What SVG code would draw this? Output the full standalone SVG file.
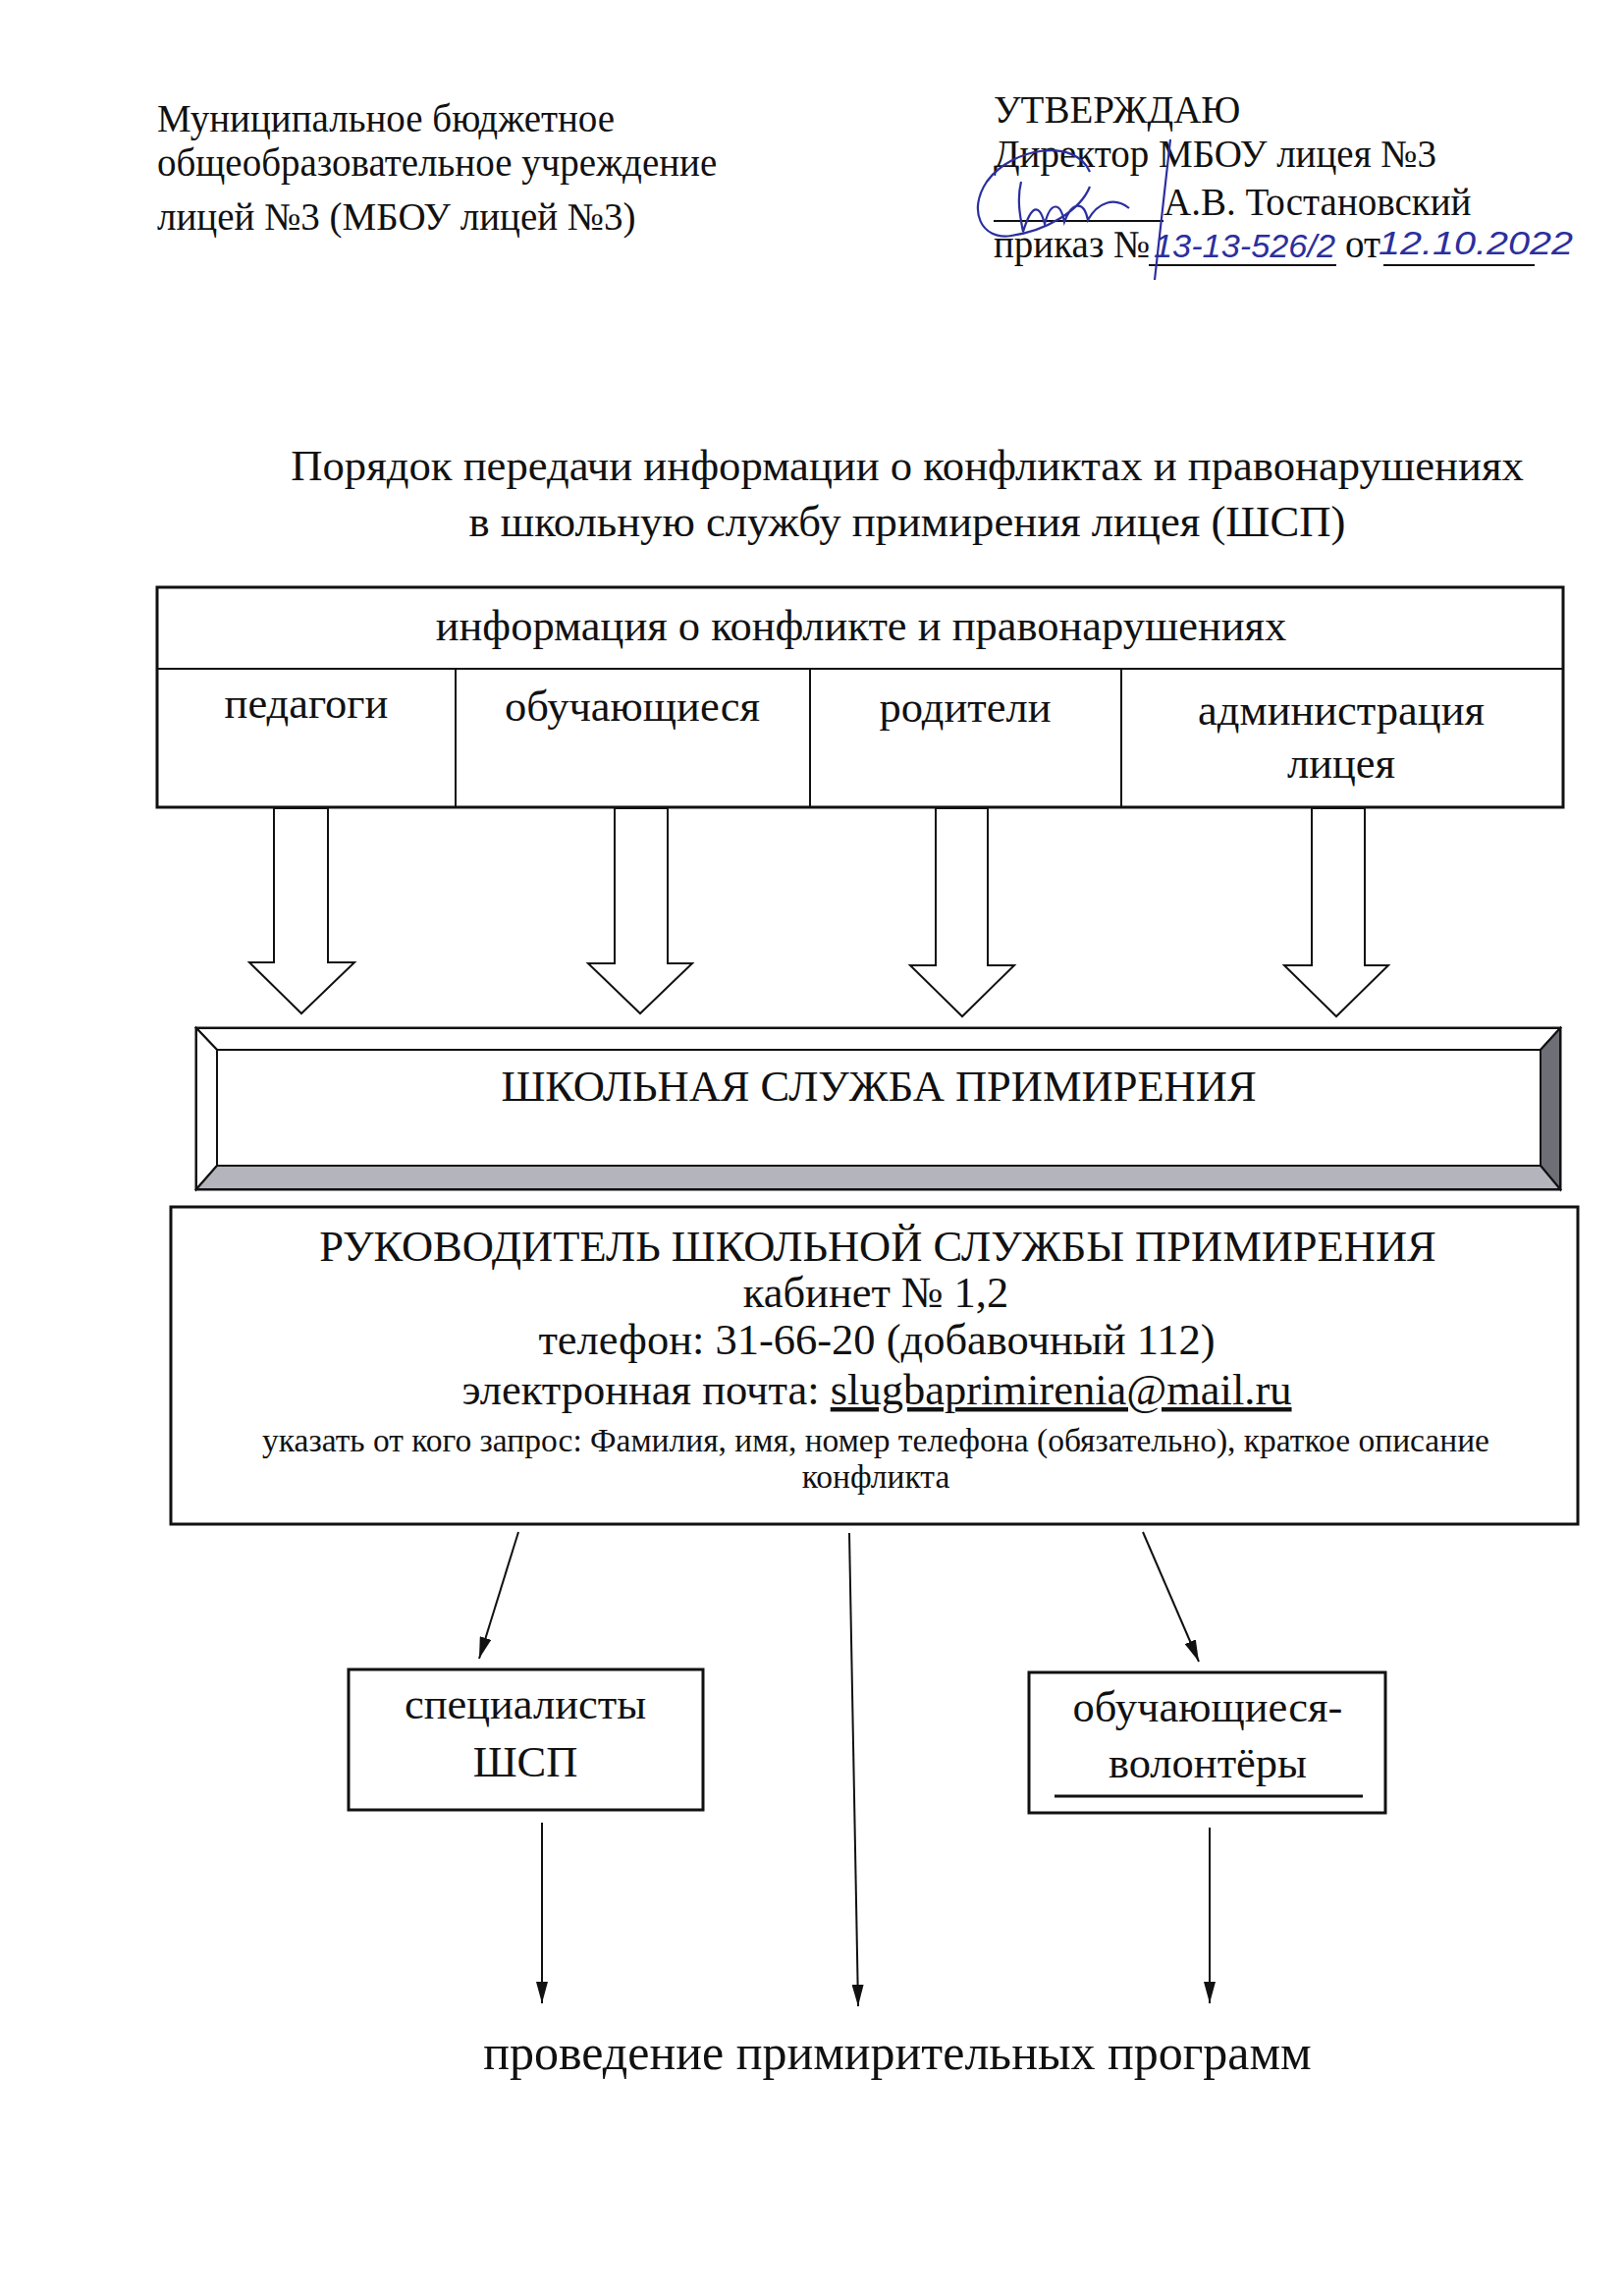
<svg xmlns="http://www.w3.org/2000/svg" width="1653" height="2338" viewBox="0 0 1653 2338">
<style>
text{font-family:"Liberation Serif","Times New Roman",serif;fill:#111;}
.hd{font-size:39px;}
.ti{font-size:44.7px;text-anchor:middle;}
.lb{font-size:44.5px;text-anchor:middle;}
.sm{font-size:33.5px;text-anchor:middle;}
.hw{font-family:"Liberation Sans",sans-serif;font-style:italic;fill:#2b2f9e;font-size:34px;}
.bx{fill:#fff;stroke:#111;stroke-width:3;}
.ln{stroke:#111;stroke-width:2;fill:none;}
.ba{fill:#fff;stroke:#111;stroke-width:2;}
</style>
<defs>
<marker id="ah2" viewBox="0 0 22 12" refX="22" refY="6" markerWidth="22" markerHeight="12" markerUnits="userSpaceOnUse" orient="auto"><path d="M0,0 L22,6 L0,12 z" fill="#111"/></marker>
</defs>
<rect width="1653" height="2338" fill="#fff"/>

<g id="header-left">
<text class="hd" x="160" y="134">Муниципальное бюджетное</text>
<text class="hd" x="160" y="179">общеобразовательное учреждение</text>
<text class="hd" x="160" y="234">лицей №3 (МБОУ лицей №3)</text>
</g>

<g id="header-right">
<text class="hd" x="1012" y="125">УТВЕРЖДАЮ</text>
<text class="hd" x="1012" y="170">Директор МБОУ лицея №3</text>
<line class="ln" x1="1012" y1="225" x2="1185" y2="225"/>
<text class="hd" x="1185" y="219">А.В. Тостановский</text>
<text class="hd" x="1012" y="262">приказ №</text>
<line class="ln" x1="1170" y1="270" x2="1361" y2="270"/>
<text class="hd" x="1370" y="262">от</text>
<line class="ln" x1="1409" y1="270" x2="1563" y2="270"/>
<text class="hw" x="1175" y="262" textLength="185" lengthAdjust="spacingAndGlyphs">13-13-526/2</text>
<text class="hw" x="1404" y="259" textLength="198" lengthAdjust="spacingAndGlyphs">12.10.2022</text>
<path d="M1110,175 C1095,140 1030,150 1005,185 C985,215 1000,245 1030,240 C1065,235 1100,215 1110,190 M1040,185 C1035,205 1040,225 1042,236 C1050,210 1058,205 1064,228 C1070,205 1080,205 1084,226 C1092,205 1104,204 1108,224 C1118,206 1135,200 1150,212 M1192,142 L1176,285" fill="none" stroke="#2b2f9e" stroke-width="2.2"/>
</g>

<g id="title">
<text class="ti" x="924" y="489">Порядок передачи информации о конфликтах и правонарушениях</text>
<text class="ti" x="924" y="546">в школьную службу примирения лицея (ШСП)</text>
</g>

<g id="info-table">
<rect class="bx" x="160" y="598" width="1432" height="224"/>
<line class="ln" x1="160" y1="681" x2="1592" y2="681" stroke-width="3"/>
<line class="ln" x1="464" y1="681" x2="464" y2="822"/>
<line class="ln" x1="825" y1="681" x2="825" y2="822"/>
<line class="ln" x1="1142" y1="681" x2="1142" y2="822"/>
<text class="lb" x="877" y="652">информация о конфликте и правонарушениях</text>
<text class="lb" x="312" y="731">педагоги</text>
<text class="lb" x="644" y="734">обучающиеся</text>
<text class="lb" x="983" y="735">родители</text>
<text class="lb" x="1366" y="738">администрация</text>
<text class="lb" x="1366" y="792">лицея</text>
</g>

<g id="block-arrows">
<path class="ba" d="M279,823 L334,823 L334,980 L361,980 L307,1032 L254,980 L279,980 Z"/>
<path class="ba" d="M626,823 L680,823 L680,981 L705,981 L652,1032 L599,981 L626,981 Z"/>
<path class="ba" d="M953,823 L1006,823 L1006,983 L1033,983 L980,1035 L927,983 L953,983 Z"/>
<path class="ba" d="M1336,823 L1390,823 L1390,983 L1414,983 L1361,1035 L1308,983 L1336,983 Z"/>
</g>

<g id="school-service">
<rect x="200" y="1047" width="1389" height="164" fill="#fff" stroke="#111" stroke-width="3"/>
<path d="M200,1047 L1589,1047 L1569,1069 L221,1069 Z" fill="#fff" stroke="#111" stroke-width="2"/>
<path d="M200,1047 L221,1069 L221,1187 L200,1211 Z" fill="#fff" stroke="#111" stroke-width="2"/>
<path d="M1589,1047 L1589,1211 L1569,1187 L1569,1069 Z" fill="#6e6e76" stroke="#111" stroke-width="2"/>
<path d="M200,1211 L221,1187 L1569,1187 L1589,1211 Z" fill="#b4b4bc" stroke="#111" stroke-width="2"/>
<text class="lb" x="895" y="1121">ШКОЛЬНАЯ СЛУЖБА ПРИМИРЕНИЯ</text>
</g>

<g id="manager">
<rect class="bx" x="174" y="1229" width="1433" height="323"/>
<text class="lb" x="894" y="1284">РУКОВОДИТЕЛЬ ШКОЛЬНОЙ СЛУЖБЫ ПРИМИРЕНИЯ</text>
<text class="lb" x="892" y="1331">кабинет № 1,2</text>
<text class="lb" x="893" y="1379">телефон: 31-66-20 (добавочный 112)</text>
<text class="lb" x="893" y="1430">электронная почта: <tspan text-decoration="underline">slugbaprimirenia@mail.ru</tspan></text>
<text class="sm" x="892" y="1478">указать от кого запрос: Фамилия, имя, номер телефона (обязательно), краткое описание</text>
<text class="sm" x="892" y="1515">конфликта</text>
</g>

<g id="specialists">
<rect class="bx" x="355" y="1700" width="361" height="143"/>
<text class="lb" x="535" y="1750">специалисты</text>
<text class="lb" x="535" y="1809">ШСП</text>
</g>

<g id="volunteers">
<rect class="bx" x="1048" y="1703" width="363" height="143"/>
<text class="lb" x="1230" y="1753">обучающиеся-</text>
<text class="lb" x="1230" y="1810">волонтёры</text>
<line x1="1074" y1="1829" x2="1388" y2="1829" stroke="#111" stroke-width="3"/>
</g>

<g id="connectors">
<line class="ln" x1="528" y1="1560" x2="488" y2="1689" marker-end="url(#ah2)"/>
<line class="ln" x1="865" y1="1561" x2="874" y2="2043" marker-end="url(#ah2)"/>
<line class="ln" x1="1164" y1="1560" x2="1221" y2="1692" marker-end="url(#ah2)"/>
<line class="ln" x1="552" y1="1856" x2="552" y2="2040" marker-end="url(#ah2)"/>
<line class="ln" x1="1232" y1="1861" x2="1232" y2="2040" marker-end="url(#ah2)"/>
</g>

<g id="result">
<text class="lb" x="914" y="2107" style="font-size:50px">проведение примирительных программ</text>
</g>
</svg>
